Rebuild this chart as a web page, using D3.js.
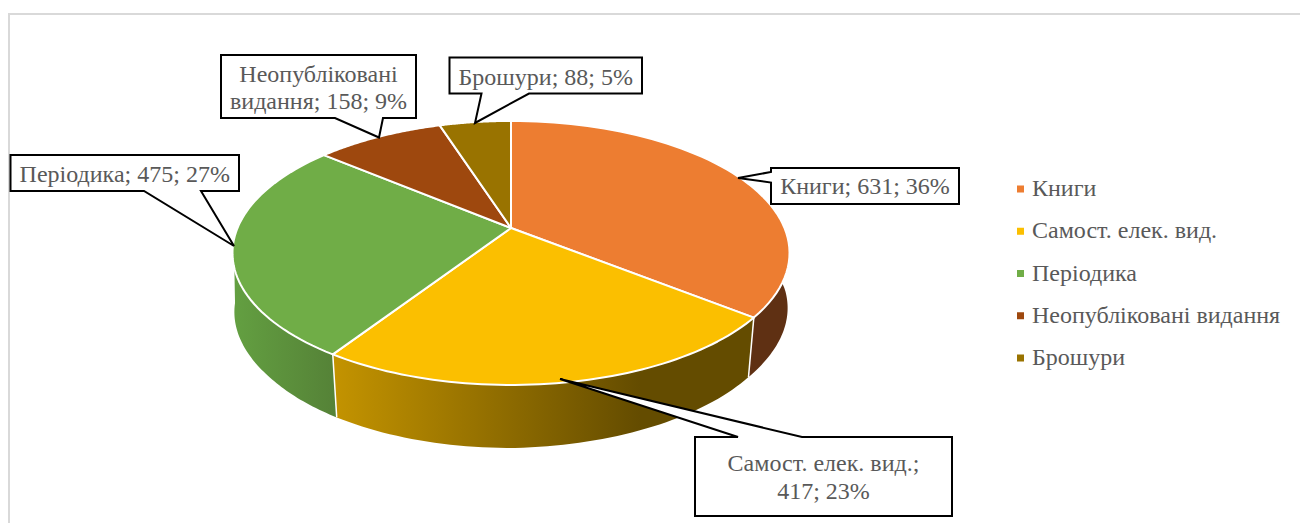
<!DOCTYPE html>
<html>
<head>
<meta charset="utf-8">
<style>
  html, body { margin: 0; padding: 0; background: #fff; overflow: hidden; }
  svg { display: block; }
  text { font-family: "Liberation Serif", serif; fill: #595959; }
</style>
<script src="https://cdn.jsdelivr.net/npm/d3@7"></script>
</head>
<body>
<script>
const categories = ['Книги', 'Самост. елек. вид.', 'Періодика', 'Неопубліковані видання', 'Брошури']
const values = [631, 417, 475, 158, 88]
const percents = [36, 23, 27, 9, 5]
const colors = ['#ED7D31', '#FBBF00', '#70AD47', '#9E480E', '#997300']

const width = 1300, height = 523

// perspective of the tilted pie, fitted to the picture
const apex = {x: 511, y: 228}
const tilt = {depth: 127.3, spread: 273.5, perspective: 0.189}
const wallDepth = d3.scaleLinear().domain([333, 511, 754]).range([63, 63, 59.5])
const wallNarrowing = d3.scaleLinear().domain([230, 317]).range([0.998, 0.978]).clamp(true)

// callout boxes: box, then the three points of the pointer
const callouts = [
  {lines: [`${categories[0]}; ${values[0]}; ${percents[0]}%`], box: [771, 168, 959, 204], base: [194],
   pointer: [[771, 172], [738, 178], [771, 182.5]]},
  {lines: [`${categories[1]};`, `${values[1]}; ${percents[1]}%`], box: [695, 437, 952, 516], base: [471, 499],
   pointer: [[738, 437], [560, 379], [802, 437]]},
  {lines: [`${categories[2]}; ${values[2]}; ${percents[2]}%`], box: [10.5, 155, 239, 191], base: [182],
   pointer: [[144, 191], [234, 246], [201, 191]]},
  {lines: ['Неопубліковані', `видання; ${values[3]}; ${percents[3]}%`], box: [221, 55, 416, 118], base: [82, 109],
   pointer: [[335, 118], [379, 137.5], [383, 118]]},
  {lines: [`${categories[4]}; ${values[4]}; ${percents[4]}%`], box: [449.5, 57.5, 642, 93.5], base: [84.5],
   pointer: [[481.5, 93.5], [475, 123], [529, 93.5]]}
]

const svg = d3.select('body').append('svg')
    .attr('width', width)
    .attr('height', height)

// chart frame, runs off the right and bottom of the crop
svg.append('path')
    .attr('d', d3.line()([[9, height], [9, 14], [width, 14]]))
    .attr('fill', 'none')
    .attr('stroke', '#d9d9d9')
    .attr('stroke-width', 2)

const pie = d3.pie().sort(null).startAngle(0).endAngle(2 * Math.PI)
const slices = pie(values)

function topPoint(a) {
  const w = 1 + tilt.perspective * Math.cos(a)
  return [apex.x + tilt.spread * Math.sin(a) / w, apex.y - tilt.depth * Math.cos(a) / w]
}
function bottomPoint(a) {
  const p = topPoint(a)
  return [apex.x + (p[0] - apex.x) * wallNarrowing(p[1]), p[1] + wallDepth(p[0])]
}
function arcAngles(a0, a1) {
  return d3.range(0, 61).map(i => a0 + (a1 - a0) * i / 60)
}

const line = d3.line()
const defs = svg.append('defs')

function wallGradient(id, x1, x2, c1, c2) {
  const g = defs.append('linearGradient')
      .attr('id', id)
      .attr('gradientUnits', 'userSpaceOnUse')
      .attr('x1', x1).attr('x2', x2)
      .attr('y1', 0).attr('y2', 0)
  g.append('stop').attr('offset', 0).attr('stop-color', c1)
  g.append('stop').attr('offset', 1).attr('stop-color', c2)
}
wallGradient('wallBooks', 750, 790, '#5f3013', '#5f3013')
wallGradient('wallOwn', 335, 640, '#c39300', '#644c00')
wallGradient('wallPeriodic', 235, 335, '#639f41', '#558237')

// walls that can be seen from the front, only the angles facing the viewer
const walls = [
  {i: 0, from: 1.45, id: 'wallBooks'},
  {i: 1, id: 'wallOwn'},
  {i: 2, to: 4.62, id: 'wallPeriodic'}
]
svg.append('g').selectAll('path')
  .data(walls)
  .enter()
  .append('path')
    .attr('d', d => {
      const a = arcAngles(d.from || slices[d.i].startAngle, d.to || slices[d.i].endAngle)
      return line(a.map(topPoint).concat(a.slice().reverse().map(bottomPoint))) + 'Z'
    })
    .attr('fill', d => `url(#${d.id})`)

// white edges between the walls
svg.append('g').selectAll('path')
  .data([slices[0].endAngle, slices[1].endAngle])
  .enter()
  .append('path')
    .attr('d', a => line([topPoint(a), bottomPoint(a)]))
    .attr('stroke', '#fff')
    .attr('stroke-width', 1.5)

// top of the pie
svg.append('g').selectAll('path')
  .data(slices)
  .enter()
  .append('path')
    .attr('d', d => line([[apex.x, apex.y]].concat(arcAngles(d.startAngle, d.endAngle).map(topPoint))) + 'Z')
    .attr('fill', (d, i) => colors[i])
    .attr('stroke', '#fff')
    .attr('stroke-width', 2)
    .attr('stroke-linejoin', 'round')

// callouts
const callout = svg.append('g').selectAll('g')
  .data(callouts)
  .enter()
  .append('g')

callout.append('path')
    .attr('d', d => {
      const [x0, y0, x1, y1] = d.box
      const p = d.pointer
      // walk round the box and step out to the tip on the side the pointer sits on
      if (p[0][1] === y1) {
        return line([[x0, y0], [x1, y0], [x1, y1], p[2], p[1], p[0], [x0, y1]]) + 'Z'
      }
      if (p[0][0] === x0) {
        return line([[x0, y0], [x1, y0], [x1, y1], [x0, y1], p[2], p[1], p[0]]) + 'Z'
      }
      return line([[x0, y0], p[0], p[1], p[2], [x1, y0], [x1, y1], [x0, y1]]) + 'Z'
    })
    .attr('fill', '#fff')
    .attr('stroke', '#000')
    .attr('stroke-width', 2)
    .attr('stroke-linejoin', 'miter')

callout.selectAll('text')
  .data(d => d.lines.map((t, i) => ({t: t, x: (d.box[0] + d.box[2]) / 2, y: d.base[i]})))
  .enter()
  .append('text')
    .attr('x', d => d.x)
    .attr('y', d => d.y)
    .attr('text-anchor', 'middle')
    .style('font-size', '24px')
    .text(d => d.t)

// legend
const legendY = d3.scalePoint().domain(categories).range([189, 358])
const legend = svg.append('g').selectAll('g')
  .data(categories)
  .enter()
  .append('g')
    .attr('transform', d => `translate(1017,${legendY(d)})`)

legend.append('rect')
    .attr('x', 0)
    .attr('y', -3.5)
    .attr('width', 7)
    .attr('height', 7)
    .attr('fill', (d, i) => colors[i])

legend.append('text')
    .attr('x', 15)
    .attr('y', 7)
    .style('font-size', '24px')
    .text(d => d)
</script>
</body>
</html>
